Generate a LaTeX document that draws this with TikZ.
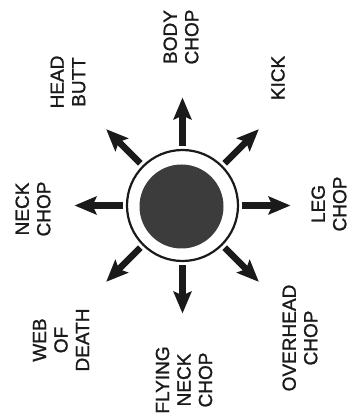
\documentclass[tikz,border=0pt]{standalone}
\usepackage{fontspec}
\setmainfont{Liberation Sans}
\newfontfamily\lblfont[FakeBold=1.2]{Liberation Sans}
\usetikzlibrary{arrows.meta,calc}
\definecolor{ink}{HTML}{1A1A1A}
\definecolor{core}{HTML}{3C3C3C}
\tikzset{
  lbl/.style={rotate=90,align=center,inner sep=0pt,text=ink,
    font=\lblfont\fontsize{19}{21.5}\selectfont},
  ray/.style={draw=ink,line width=6.5pt,shorten <=3pt,
    -{Stealth[length=22pt,width=18pt,inset=4pt]}},
  ringstyle/.style={circle,draw=ink,line width=2.2pt,minimum size=111pt,inner sep=0pt},
  corestyle/.style={circle,fill=core,minimum size=84pt,inner sep=0pt}
}
\begin{document}
\begin{tikzpicture}[x=1pt,y=1pt]
\useasboundingbox (0,0) rectangle (360,416);
\fill[white] (0,0) rectangle (360,416);
\coordinate (c) at (182.5,210.5);
\node[ringstyle] (ring) at (c) {};
\node[corestyle] (core) at (181.5,209.5) {};
\foreach \a/\n in {0/e,45/ne,90/n,135/nw,180/w,225/sw,270/s,315/se}{
  \coordinate (t\n) at ($(c)+(\a:108)$);
  \draw[ray] (ring.\a) -- (t\n);
}
\node[lbl] (headbutt) at (68,334) {HEAD\\BUTT};
\node[lbl] (bodychop) at (181,379) {BODY\\CHOP};
\node[lbl] (kick) at (278,338) {KICK};
\node[lbl] (neckchop) at (33,207) {NECK\\CHOP};
\node[lbl] (legchop) at (329,212) {LEG\\CHOP};
\node[lbl] (web) at (61,76) {WEB\\OF\\DEATH};
\node[lbl] (flying) at (184,36) {FLYING\\NECK\\CHOP};
\node[lbl] (overhead) at (300,78) {OVERHEAD\\CHOP};
\end{tikzpicture}
\end{document}
